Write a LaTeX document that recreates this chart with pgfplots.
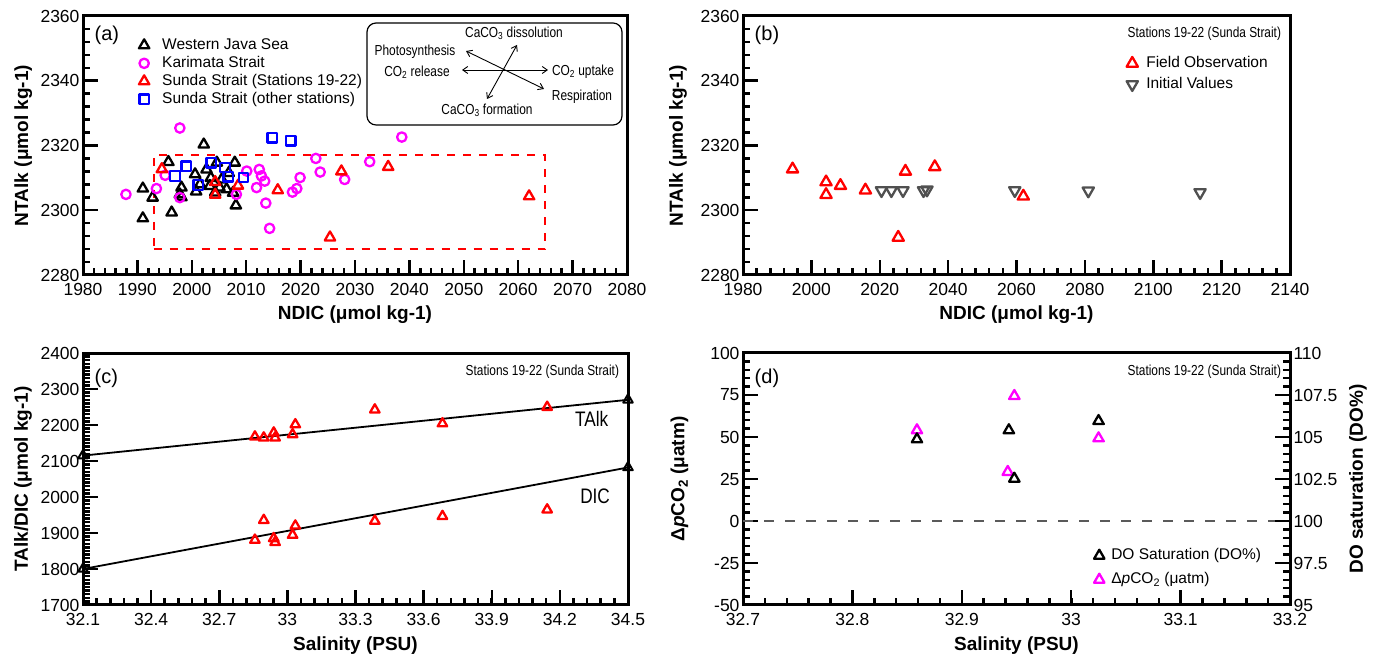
\documentclass[border=0pt]{standalone}
\usepackage{pgfplots}
\pgfplotsset{compat=1.18}
\usepackage{pgfplotstable}
\usepackage{fontspec}
\setmainfont{Liberation Sans}
\newfontfamily\narrowfont[FakeStretch=0.82]{Liberation Sans}
\usetikzlibrary{arrows.meta}

\definecolor{mag}{RGB}{255,0,255}
\definecolor{ivgray}{RGB}{80,80,80}
\definecolor{zerogray}{RGB}{90,90,90}

% ---------- data ----------
% (a) NDIC vs NTAlk
\pgfplotstableread{
x y
1991.0 2306.7
1992.8 2303.9
1991.0 2297.5
1996.3 2299.3
1995.7 2314.9
2002.2 2320.3
1997.8 2304.9
1998.1 2307.0
2000.6 2311.1
2002.7 2312.6
2004.6 2314.7
2007.9 2314.7
2008.1 2301.5
2006.4 2306.5
2003.3 2307.5
2001.5 2308.0
2007.6 2305.4
2005.1 2307.0
1998.1 2304.0
2003.5 2310.0
2005.5 2309.5
2006.8 2311.5
2000.8 2305.8
2004.3 2305.5
}\javasea
\pgfplotstableread{
x y
1997.8 2325.4
1987.9 2304.9
1993.5 2306.7
1995.1 2310.8
1997.8 2303.9
2010.1 2312.1
2012.4 2312.6
2012.8 2310.6
2013.4 2309.0
2011.9 2307.0
2013.6 2302.2
2014.3 2294.4
2018.5 2305.6
2019.3 2306.7
2019.9 2310.1
2022.8 2316.0
2023.6 2311.8
2028.1 2309.5
2032.7 2315.0
2038.6 2322.6
2008.2 2304.9
}\karimata
\pgfplotstableread{
x y
1994.5 2312.7
2004.3 2308.7
2004.3 2304.8
2008.5 2307.6
2015.8 2306.2
2025.4 2291.6
2027.5 2312.0
2036.1 2313.4
2062.0 2304.3
}\sundaA
\pgfplotstableread{
x y
2014.8 2322.4
2018.2 2321.5
1999.0 2313.6
1996.9 2310.6
2001.2 2307.8
2003.6 2314.7
2006.1 2313.2
2006.7 2310.4
2009.5 2310.1
}\sundaB
% (b) initial values
\pgfplotstableread{
x y
2020.5 2306.1
2023.4 2306.1
2026.8 2306.1
2032.8 2306.1
2033.8 2306.3
2059.5 2306.1
2081.0 2306.0
2113.7 2305.5
}\initial
% (c) salinity vs TAlk / DIC
\pgfplotstableread{
s talk dic
32.857 2167.3 1880.5
32.896 2164.5 1935.5
32.940 2178.3 1885.1
32.946 2164.5 1874.1
33.023 2173.7 1894.2
33.035 2201.2 1919.9
33.385 2242.4 1933.6
33.683 2203.9 1946.5
34.144 2249.7 1964.8
}\salin
% (d) salinity vs dpCO2 and DO saturation
\pgfplotstableread{
s dpco2
32.859 54.0
32.948 74.4
32.942 29.2
33.025 49.2
}\dpco
\pgfplotstableread{
s dosat
32.859 104.86
32.943 105.40
32.948 102.52
33.025 105.95
}\dosat

\tikzset{tk/.style={line width=2.5pt, black}}
\pgfplotsset{
  panel/.style={
    scale only axis,
    axis line style={line width=3pt},
    every tick/.style={black, line width=2.5pt},
    tick align=inside,
    xtick pos=left, ytick pos=left,
    tick label style={font=\fontsize{17.5}{20}\selectfont},
    xticklabel style={yshift=-5pt},
    label style={font=\bfseries\fontsize{19}{22}\selectfont},
    /pgf/number format/assume math mode=true,
    /pgf/number format/1000 sep={},
    legend cell align=left,
    legend style={draw=none, fill=none, font=\fontsize{15.5}{18}\selectfont,
      nodes={text height=11pt, text depth=3pt, inner sep=2pt}, row sep=0pt},
    clip marker paths=false,
  },
  mk/.style={only marks, mark options={line width=2.3pt, line join=round}},
  gap/.style={legend image code/.code={\draw[##1] plot[only marks] coordinates {(5pt,0pt)};
      \path[draw=none, fill=none] (0pt,0pt) -- (#1,0pt);}},
}
% inward tick marks: #1 list, #2 fixed other coordinate, #3 length
\newcommand\xticks[3]{\pgfplotsinvokeforeach{#1}{\draw[tk] (axis cs:##1,#2) -- ++(0pt,#3);}}
\newcommand\yticks[3]{\pgfplotsinvokeforeach{#1}{\draw[tk] (axis cs:#2,##1) -- ++(#3,0pt);}}

\begin{document}
\begin{tikzpicture}
\path[use as bounding box] (0pt,0pt) rectangle (1380pt,660pt);

% ---------------- (a) ----------------
\begin{axis}[panel, at={(83pt,385pt)}, anchor=south west, width=544pt, height=259pt,
  xmin=1980, xmax=2080, ymin=2280, ymax=2360,
  xtick={1980,1990,...,2080}, ytick={2280,2300,...,2360},
  xlabel={NDIC (μmol kg-1)}, ylabel={NTAlk (μmol kg-1)},
  xlabel style={at={(axis description cs:0.5,-0.152)}, anchor=center},
  ylabel style={at={(axis description cs:-0.110,0.5)}, anchor=center},
  legend style={at={(axis description cs:0.097,0.93)}, anchor=north west},
]
\xticks{1982,1984,...,2078}{2280}{7pt}
\xticks{1990,2000,...,2070}{2280}{15pt}
\yticks{2284,2288,...,2356}{1980}{7pt}
\yticks{2300,2320,2340}{1980}{15pt}
\addplot[mk, black, mark=triangle, mark size=6pt, gap=21pt] table {\javasea};
\addlegendentry{Western Java Sea}
\addplot[mk, mag, mark=o, mark size=4.7pt, gap=21pt] table {\karimata};
\addlegendentry{Karimata Strait}
\addplot[mk, red, mark=triangle, mark size=6pt, gap=21pt] table {\sundaA};
\addlegendentry{Sunda Strait (Stations 19-22)}
\addplot[mk, blue, mark=square, mark size=4.8pt, gap=21pt] table {\sundaB};
\addlegendentry{Sunda Strait (other stations)}
\addplot[red, line width=2pt, dash pattern=on 8pt off 8pt, forget plot]
  coordinates {(1993,2288)(2065,2288)(2065,2317)(1993,2317)(1993,2288)};
\node[anchor=west, font=\fontsize{20}{22}\selectfont] at (axis description cs:0.015,0.925) {(a)};
\end{axis}

% process diagram
\draw[rounded corners=9pt, line width=1.2pt, fill=white] (367pt,535pt) rectangle (622pt,637pt);
\begin{scope}[font=\narrowfont\fontsize{14.5}{16}\selectfont]
\node at (514pt,627pt) {CaCO\textsubscript{3} dissolution};
\node at (415pt,608pt) {Photosynthesis};
\node at (417pt,588pt) {CO\textsubscript{2} release};
\node at (583pt,588pt) {CO\textsubscript{2} uptake};
\node at (582pt,563pt) {Respiration};
\node at (487pt,550pt) {CaCO\textsubscript{3} formation};
\end{scope}
\begin{scope}[line width=0.9pt, {Straight Barb[length=5pt,width=7pt]}-{Straight Barb[length=5pt,width=7pt]}]
\draw (462pt,590pt) -- (548pt,590pt);
\draw (466pt,609pt) -- (544pt,571pt);
\draw (487pt,561pt) -- (517pt,615pt);
\end{scope}

% ---------------- (b) ----------------
\begin{axis}[panel, at={(743pt,385pt)}, anchor=south west, width=547pt, height=259pt,
  xmin=1980, xmax=2140, ymin=2280, ymax=2360,
  xtick={1980,2000,...,2140}, ytick={2280,2300,...,2360},
  xlabel={NDIC (μmol kg-1)}, ylabel={NTAlk (μmol kg-1)},
  xlabel style={at={(axis description cs:0.5,-0.152)}, anchor=center},
  ylabel style={at={(axis description cs:-0.119,0.5)}, anchor=center},
  legend style={at={(axis description cs:0.6955,0.86)}, anchor=north west,
    row sep=3pt},
]
\xticks{1984,1988,...,2136}{2280}{7pt}
\xticks{2000,2020,...,2120}{2280}{15pt}
\yticks{2284,2288,...,2356}{1980}{7pt}
\yticks{2300,2320,2340}{1980}{15pt}
\addplot[mk, red, mark=triangle, mark size=6.5pt, gap=17pt] table {\sundaA};
\addlegendentry{Field Observation}
\addplot[only marks, ivgray, mark=triangle, mark size=6.5pt, gap=17pt,
  mark options={rotate=180, line width=2.3pt, line join=round}] table {\initial};
\addlegendentry{Initial Values}
\node[anchor=west, font=\fontsize{20}{22}\selectfont] at (axis description cs:0.015,0.925) {(b)};
\node[anchor=east, font=\narrowfont\fontsize{14.5}{17}\selectfont] at (axis description cs:0.99,0.93) {Stations 19-22 (Sunda Strait)};
\end{axis}

% ---------------- (c) ----------------
\begin{axis}[panel, at={(83pt,55pt)}, anchor=south west, width=545pt, height=252pt,
  xmin=32.1, xmax=34.5, ymin=1700, ymax=2400,
  xtick={32.1,32.4,32.7,33,33.3,33.6,33.9,34.2,34.5}, ytick={1700,1800,...,2400},
  xlabel={Salinity (PSU)}, ylabel={TAlk/DIC (μmol kg-1)},
  xlabel style={at={(axis description cs:0.5,-0.162)}, anchor=center},
  ylabel style={at={(axis description cs:-0.110,0.5)}, anchor=center},
]
\xticks{32.16,32.22,...,34.45}{1700}{7pt}
\xticks{32.4,32.7,...,34.3}{1700}{15pt}
\yticks{1710,1720,...,2390}{32.1}{7pt}
\yticks{1800,1900,...,2300}{32.1}{15pt}
\addplot[black, line width=1.8pt, mark=triangle, mark size=5.5pt,
  mark options={line width=2pt, line join=round}] coordinates {(32.1,2115)(34.5,2270)};
\addplot[black, line width=1.8pt, mark=triangle, mark size=5.5pt,
  mark options={line width=2pt, line join=round}] coordinates {(32.1,1800)(34.5,2082)};
\addplot[mk, red, mark=triangle, mark size=5.5pt] table[x=s, y=talk] {\salin};
\addplot[mk, red, mark=triangle, mark size=5.5pt] table[x=s, y=dic] {\salin};
\node[font=\narrowfont\fontsize{21}{23}\selectfont] at (axis cs:34.34,2217) {TAlk};
\node[font=\narrowfont\fontsize{21}{23}\selectfont] at (axis cs:34.355,2001) {DIC};
\node[anchor=west, font=\fontsize{20}{22}\selectfont] at (axis description cs:0.015,0.9) {(c)};
\node[anchor=east, font=\narrowfont\fontsize{14.5}{17}\selectfont] at (axis description cs:0.99,0.925) {Stations 19-22 (Sunda Strait)};
\end{axis}

% ---------------- (d) ----------------
\begin{axis}[panel, at={(743pt,55pt)}, anchor=south west, width=547pt, height=252pt,
  xmin=32.7, xmax=33.2, ymin=-50, ymax=100,
  xtick={32.7,32.8,32.9,33,33.1,33.2}, ytick={-50,-25,...,100},
  xlabel={Salinity (PSU)}, ylabel={Δ\textit{p}CO\textsubscript{2} (μatm)},
  xlabel style={at={(axis description cs:0.5,-0.162)}, anchor=center},
  ylabel style={at={(axis description cs:-0.116,0.5)}, anchor=center},
  legend style={at={(axis description cs:0.636,0.24)}, anchor=north west, row sep=6pt},
]
\xticks{32.72,32.74,...,33.19}{-50}{7pt}
\xticks{32.8,32.9,33.0,33.1}{-50}{15pt}
\yticks{-45,-40,...,95}{32.7}{7pt}
\yticks{-25,0,...,75}{32.7}{15pt}
\addlegendimage{mk, black, mark=triangle, mark size=6pt, gap=15pt}
\addlegendentry{DO Saturation (DO\%)}
\addplot[zerogray, line width=2pt, dash pattern=on 10pt off 11pt, forget plot]
  coordinates {(32.7,0)(33.2,0)};
\addplot[mk, mag, mark=triangle, mark size=6pt, gap=15pt] table[x=s, y=dpco2] {\dpco};
\addlegendentry{Δ\textit{p}CO\textsubscript{2} (μatm)}
\node[anchor=west, font=\fontsize{20}{22}\selectfont] at (axis description cs:0.015,0.9) {(d)};
\node[anchor=east, font=\narrowfont\fontsize{14.5}{17}\selectfont] at (axis description cs:0.99,0.925) {Stations 19-22 (Sunda Strait)};
\end{axis}
\begin{axis}[panel, at={(743pt,55pt)}, anchor=south west, width=547pt, height=252pt,
  xmin=32.7, xmax=33.2, ymin=95, ymax=110,
  axis y line*=right, axis x line=none, ytick pos=right,
  ytick={95,97.5,...,110},
  ylabel={DO saturation (DO\%)},
  ylabel style={at={(axis description cs:1.124,0.5)}, anchor=center, rotate=0},
]
\yticks{95.5,96,...,109.6}{33.2}{-7pt}
\yticks{97.5,100,...,107.5}{33.2}{-15pt}
\addplot[mk, black, mark=triangle, mark size=6pt] table[x=s, y=dosat] {\dosat};
\end{axis}
\end{tikzpicture}
\end{document}
